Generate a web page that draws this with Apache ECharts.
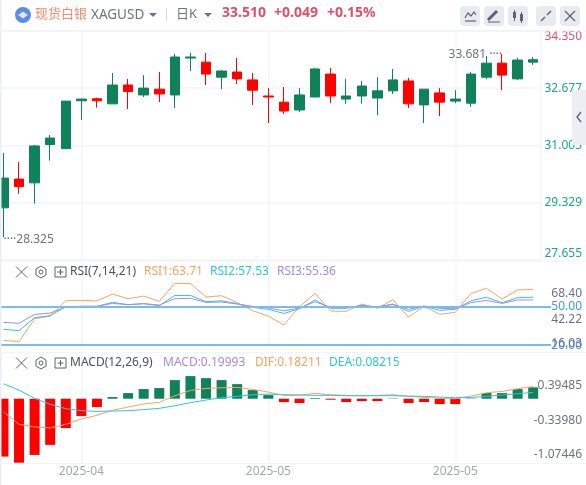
<!DOCTYPE html>
<html>
<head>
<meta charset="utf-8">
<title>XAGUSD</title>
<style>
  html, body { margin: 0; padding: 0; background: #fff; }
  #chart { width: 586px; height: 485px; }
</style>
<script src="https://cdn.jsdelivr.net/npm/echarts@6/dist/echarts.min.js"></script>
</head>
<body>
<div id="chart"></div>
<script>
// x axis buckets, only the three tick indexes below get a label
const categories = [
    '2025-03', '2025-03', '2025-03', '2025-03', '2025-03',
    '2025-04', '2025-04', '2025-04', '2025-04', '2025-04', '2025-04', '2025-04', '2025-04', '2025-04', '2025-04', '2025-04', '2025-04',
    '2025-05', '2025-05', '2025-05', '2025-05', '2025-05', '2025-05', '2025-05', '2025-05', '2025-05', '2025-05', '2025-05', '2025-05',
    '2025-05', '2025-05', '2025-05', '2025-05', '2025-05', '2025-05'
];
const dateTickIndexes = [5, 17, 29];

// open, close, low, high
const candles = [
    [29.18, 30.05, 28.325, 30.79], [30.02, 29.80, 29.59, 30.52], [29.91, 30.99, 29.30, 31.02], [31.03, 31.22, 30.56, 31.31],
    [30.91, 32.30, 30.91, 32.30], [32.31, 32.36, 31.75, 32.37], [32.37, 32.31, 32.11, 32.40], [32.22, 32.77, 32.22, 33.12],
    [32.77, 32.58, 32.07, 32.95], [32.48, 32.68, 32.42, 33.06], [32.65, 32.51, 32.27, 33.15], [32.48, 33.59, 32.10, 33.68],
    [33.56, 33.59, 33.18, 33.71], [33.44, 33.09, 32.77, 33.71], [33.00, 33.18, 32.65, 33.21], [33.15, 32.95, 32.80, 33.56],
    [32.92, 32.62, 32.19, 33.12], [32.45, 32.42, 31.66, 32.68], [32.27, 32.01, 31.92, 32.71], [32.04, 32.48, 31.98, 32.68],
    [32.42, 33.24, 32.42, 33.27], [33.09, 32.45, 32.24, 33.27], [32.36, 32.45, 32.22, 32.95], [32.45, 32.74, 32.22, 32.89],
    [32.39, 32.60, 31.89, 33.00], [32.60, 32.92, 32.51, 33.24], [32.89, 32.22, 32.10, 32.98], [32.19, 32.65, 31.66, 32.65],
    [32.54, 32.27, 31.86, 32.68], [32.30, 32.36, 32.24, 32.62], [32.24, 33.09, 32.13, 33.15], [33.00, 33.41, 32.95, 33.62],
    [33.41, 33.06, 32.62, 33.681], [32.95, 33.50, 32.92, 33.56], [33.44, 33.51, 33.36, 33.59]
];
const priceTicks = [27.655, 29.329, 31.003, 32.677, 34.35];

const rsi1 = [23.4, 22.4, 40.5, 42.6, 54.7, 55.0, 54.5, 60.0, 56.3, 58.4, 54.2, 68.4, 68.4, 57.6, 58.7, 53.2, 46.8, 42.6, 35.5, 50.0, 60.5, 46.6, 46.3, 52.1, 48.7, 55.5, 41.8, 50.3, 44.0, 45.5, 60.5, 64.5, 56.0, 63.2, 63.71];
const rsi2 = [32.1, 31.1, 41.3, 42.9, 50.0, 50.3, 50.3, 53.4, 51.6, 52.4, 50.8, 58.9, 58.9, 53.9, 54.7, 52.4, 49.5, 47.9, 44.7, 48.4, 55.3, 48.7, 48.7, 51.1, 49.5, 52.1, 46.3, 50.5, 47.1, 47.9, 54.7, 57.4, 53.2, 57.1, 57.53];
const rsi3 = [37.6, 36.9, 43.9, 45.0, 49.7, 50.3, 50.3, 52.6, 51.6, 52.4, 51.3, 56.3, 56.6, 53.4, 53.7, 52.1, 50.3, 48.9, 46.8, 48.9, 53.9, 49.5, 49.2, 50.8, 50.0, 51.8, 47.9, 50.5, 48.7, 48.4, 53.2, 55.0, 52.6, 55.3, 55.36];
const rsiLevels = [50, 20];
// the site stacks these labels away from their real values, so keep both.
// the empty first one stops the axis dropping 16.03 where it overlaps 20.00
const rsiLabelSpots = [15.8, 19.4, 20.6, 39.9, 50, 60];
const rsiLabelTexts = ['', '20.00', '16.03', '42.22', '50.00', '68.40'];

const macdBars = [-0.967, -1.07, -0.94, -0.772, -0.489, -0.289, -0.139, 0.028, 0.094, 0.161, 0.178, 0.311, 0.378, 0.344, 0.311, 0.244, 0.144, 0.061, -0.056, -0.072, 0.011, -0.017, -0.055, -0.039, -0.039, 0.006, -0.072, -0.055, -0.089, -0.089, 0.006, 0.094, 0.094, 0.161, 0.19];
const dif = [-0.217, -0.428, -0.472, -0.489, -0.428, -0.339, -0.278, -0.194, -0.139, -0.089, -0.061, 0.05, 0.139, 0.172, 0.183, 0.189, 0.156, 0.111, 0.056, 0.061, 0.089, 0.067, 0.056, 0.05, 0.056, 0.067, 0.039, 0.022, 0.006, 0, 0.044, 0.1, 0.122, 0.167, 0.206];
const dea = [0.25, 0.144, 0.006, -0.094, -0.167, -0.2, -0.211, -0.206, -0.2, -0.183, -0.161, -0.117, -0.067, -0.022, 0.017, 0.039, 0.067, 0.078, 0.067, 0.061, 0.056, 0.056, 0.05, 0.05, 0.05, 0.05, 0.044, 0.039, 0.028, 0.017, 0.022, 0.039, 0.061, 0.083, 0.106];
const macdLabelSpots = [0.22, -0.37, -0.93];
const macdLabelTexts = ['0.39485', '-0.33980', '-1.07446'];

const UP = '#0f825a', DOWN = '#ff0000';
const ORANGE = '#f7a35c', TEAL = '#2fc4dc', PURPLE = '#a58ae8';
const GRID = '#f3f4f8', GREY = '#6f7280';
const FONT = '"Noto Sans", "Noto Sans CJK SC", sans-serif';

const chart = echarts.init(document.getElementById('chart'), null, { renderer: 'canvas' });

function text(x, y, str, color, size, weight) {
    return {
        type: 'text', x: x, y: y, z: 100,
        style: { text: str, fill: color, font: (weight || 'normal') + ' ' + (size || 12) + 'px ' + FONT, verticalAlign: 'middle' }
    };
}
function path(points, color, width) {
    return {
        type: 'polyline', z: 100, silent: true,
        shape: { points: points },
        style: { stroke: color, lineWidth: width || 1, fill: null }
    };
}
function box(x, y, w, h, color, r) {
    return { type: 'rect', z: 99, shape: { x: x, y: y, width: w, height: h, r: r || 0 }, style: { fill: color } };
}
function caret(x, y) {
    return { type: 'polygon', z: 100, shape: { points: [[x - 4, y - 2], [x + 4, y - 2], [x, y + 2]] }, style: { fill: GREY } };
}

// the three little controls in front of each indicator name
function paneControls(y) {
    const c = '#5f6270';
    const hex = [[41, y - 6], [46, y - 3], [46, y + 3], [41, y + 6], [36, y + 3], [36, y - 3], [41, y - 6]];
    return [
        path([[16, y - 5.5], [27, y + 5.5]], c), path([[27, y - 5.5], [16, y + 5.5]], c),
        path(hex, c),
        { type: 'circle', z: 100, shape: { cx: 41, cy: y, r: 2 }, style: { stroke: c, fill: null } },
        path([[55, y - 5], [66, y - 5], [66, y + 5], [55, y + 5], [55, y - 5]], c),
        path([[60.5, y - 3], [60.5, y + 3]], c), path([[57.5, y], [63.5, y]], c)
    ];
}

const chrome = [
    // panel borders
    box(0, 0, 1.5, 485, '#eceef5'),
    box(0, 30, 586, 1.5, GRID), box(0, 260.5, 586, 1, GRID), box(0, 352, 586, 1, GRID), box(0, 463, 586, 1, GRID),
    // header
    { type: 'circle', z: 100, shape: { cx: 23, cy: 15, r: 8 }, style: { fill: '#5b8de8' } },
    { type: 'polygon', z: 101, shape: { points: [[18, 15], [23, 11.5], [28, 15], [23, 18.5]] }, style: { fill: '#dfe8fa' } },
    text(35, 14, '现货白银', '#f58a6c', 13),
    text(91, 15, 'XAGUSD', '#6f7280', 13.5),
    caret(153, 15),
    box(166, 8, 1, 13, '#d8dae2'),
    text(176, 14, '日K', '#6f7280', 13),
    caret(208, 15),
    text(222, 13, '33.510', '#e0506a', 14, 'bold'),
    text(274, 13, '+0.049', '#e0506a', 14, 'bold'),
    text(327, 13, '+0.15%', '#e0506a', 14, 'bold'),
    // toolbar
    box(460, 6, 20, 20, '#e8eaf1', 4), box(484, 6, 20, 20, '#e8eaf1', 4), box(508, 6, 20, 20, '#e8eaf1', 4),
    box(536, 6, 20, 20, '#e8eaf1', 4), box(560, 6, 20, 20, '#e8eaf1', 4),
    path([[465, 18], [468, 13], [471, 16], [474, 12], [476, 15]], '#5f6270', 1.2), path([[465, 21], [476, 21]], '#5f6270', 1.2),
    path([[488, 20], [497, 11]], '#5f6270', 3), path([[488, 22], [500, 22]], '#5f6270', 1),
    path([[514.5, 10], [514.5, 21]], '#5f6270', 1), box(513, 12, 3, 6, '#5f6270'),
    path([[521.5, 12], [521.5, 23]], '#5f6270', 1), box(520, 14, 3, 7, '#5f6270'),
    path([[541, 21], [545, 17]], '#5f6270', 1.4), path([[547, 15], [551, 11]], '#5f6270', 1.4),
    path([[565, 11], [575, 21]], '#5f6270', 1.2), path([[575, 11], [565, 21]], '#5f6270', 1.2),
    // collapse tab
    box(572, 90, 14, 55, '#eceef4'),
    path([[581, 112], [577, 117], [581, 122]], '#5f6270', 1.3),
    // RSI legend
    ...paneControls(272),
    text(70, 272, 'RSI(7,14,21)', '#4d4f5a', 12),
    text(144, 272, 'RSI1:63.71', ORANGE, 12),
    text(210, 272, 'RSI2:57.53', TEAL, 12),
    text(277, 272, 'RSI3:55.36', PURPLE, 12),
    // MACD legend
    ...paneControls(363),
    text(70, 363, 'MACD(12,26,9)', '#4d4f5a', 12),
    text(163, 363, 'MACD:0.19993', PURPLE, 12),
    text(255, 363, 'DIF:0.18211', ORANGE, 12),
    text(329, 363, 'DEA:0.08215', TEAL, 12)
];

function xAxis(gridIndex, showLabels) {
    return {
        type: 'category', gridIndex: gridIndex, data: categories,
        axisLine: { show: false },
        axisTick: { show: false, alignWithLabel: true },
        axisLabel: {
            show: showLabels, color: '#a3a7b5', fontSize: 12, fontFamily: FONT, margin: 3,
            interval: (i) => dateTickIndexes.includes(i)
        },
        splitLine: {
            show: true, alignWithLabel: true,
            interval: (i) => dateTickIndexes.includes(i),
            lineStyle: { color: GRID, width: 1.5 }
        }
    };
}

function line(name, data, color, axisIndex, extra) {
    return Object.assign({
        name: name, type: 'line', data: data,
        xAxisIndex: axisIndex, yAxisIndex: axisIndex,
        showSymbol: false, symbol: 'none',
        lineStyle: { color: color, width: 1 }
    }, extra);
}

function extremeLabel(coord, label, position, offset) {
    return {
        coord: coord, symbol: 'circle', symbolSize: 0,
        label: { show: true, formatter: label, position: position, offset: offset, color: GREY, fontSize: 12, fontFamily: FONT, distance: 0 }
    };
}

const option = {
    animation: false,
    graphic: chrome,
    grid: [
        { left: -4.34, width: 545.34, top: 31, height: 229, outerBoundsMode: 'none' },
        { left: -4.34, width: 545.34, top: 262, height: 88, outerBoundsMode: 'none' },
        { left: -4.34, width: 545.34, top: 352, height: 111, outerBoundsMode: 'none' }
    ],
    xAxis: [xAxis(0, false), xAxis(1, false), xAxis(2, true)],
    yAxis: [
        {
            gridIndex: 0, position: 'right', scale: true, min: 27.655, max: 34.35,
            axisLine: { show: true, lineStyle: { color: GRID, width: 1.5 } },
            axisTick: { show: false, customValues: priceTicks },
            splitLine: { show: true, lineStyle: { color: GRID, width: 1.5 } },
            axisLabel: {
                customValues: priceTicks, align: 'right', margin: 41, fontSize: 12, fontFamily: FONT,
                verticalAlignMaxLabel: 'top', verticalAlignMinLabel: 'bottom',
                formatter: (v) => v.toFixed(3),
                color: (v) => Number(v) >= 34 ? '#e0506a' : '#1ea88a'
            }
        },
        {
            gridIndex: 1, position: 'right', min: 15.8, max: 85.3,
            axisLine: { show: false },
            splitLine: { show: false },
            axisTick: { show: true, customValues: rsiLevels, length: 10, lineStyle: { color: '#78bbf5', width: 2 } },
            axisLabel: {
                customValues: rsiLabelSpots, align: 'right', margin: 41, fontSize: 12, fontFamily: FONT,
                showMinLabel: true, showMaxLabel: true, hideOverlap: false,
                formatter: (v) => rsiLabelTexts[rsiLabelSpots.indexOf(Number(v))],
                color: (v) => {
                    const t = rsiLabelTexts[rsiLabelSpots.indexOf(Number(v))];
                    return t === '50.00' || t === '20.00' ? '#3d97ee' : GREY;
                }
            }
        },
        {
            gridIndex: 2, position: 'right', min: -1.07446, max: 0.781,
            axisLine: { show: false },
            splitLine: { show: false },
            axisTick: { show: false },
            axisLabel: {
                customValues: macdLabelSpots, align: 'right', margin: 41, fontSize: 12, fontFamily: FONT, color: GREY,
                formatter: (v) => macdLabelTexts[macdLabelSpots.indexOf(v)]
            }
        }
    ],
    series: [
        {
            name: 'XAGUSD', type: 'candlestick', data: candles,
            xAxisIndex: 0, yAxisIndex: 0, barWidth: 10,
            itemStyle: { color: UP, color0: DOWN, borderColor: UP, borderColor0: DOWN, borderWidth: 1 },
            markPoint: {
                silent: true, animation: false,
                data: [
                    extremeLabel([32, 33.681], '33.681 ····', 'left', [0, 1]),
                    extremeLabel([0, 28.325], '····28.325', 'right', [0, 2])
                ]
            }
        },
        line('RSI1', rsi1, ORANGE, 1),
        line('RSI2', rsi2, TEAL, 1),
        line('RSI3', rsi3, PURPLE, 1, {
            markLine: {
                silent: true, symbol: 'none', animation: false,
                label: { show: false },
                lineStyle: { color: '#78bbf5', width: 2, type: 'solid' },
                data: rsiLevels.map((v) => ({ yAxis: v }))
            }
        }),
        {
            name: 'MACD', type: 'bar', data: macdBars,
            xAxisIndex: 2, yAxisIndex: 2, barWidth: 10,
            itemStyle: { color: (p) => p.value >= 0 ? UP : DOWN }
        },
        line('DIF', dif, ORANGE, 2),
        line('DEA', dea, TEAL, 2)
    ]
};

chart.setOption(option);
</script>
</body>
</html>
